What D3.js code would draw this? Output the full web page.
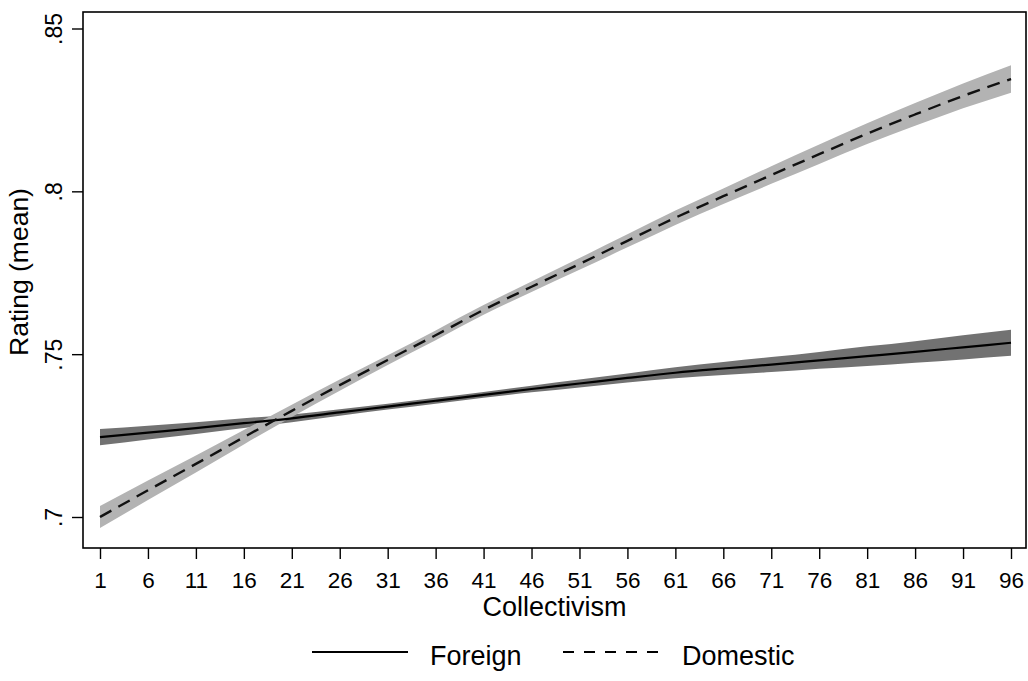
<!DOCTYPE html>
<html>
<head>
<meta charset="utf-8">
<script src="https://cdn.jsdelivr.net/npm/d3@7"></script>
<style>
  html, body { margin: 0; padding: 0; background: #fff; }
  svg { display: block; font-family: "Liberation Sans", Arial, sans-serif; }
</style>
</head>
<body>
<svg id="chart" width="1028" height="681"></svg>
<script>
// ---- data ----
const collectivism = [1, 6, 11, 16, 21, 26, 31, 36, 41, 46, 51, 56, 61, 66, 71, 76, 81, 86, 91, 96];
const foreignMean  = [0.7245, 0.7259, 0.7273, 0.7288, 0.7303, 0.7321, 0.7339, 0.7357, 0.7375, 0.7393,
                      0.7410, 0.7427, 0.7443, 0.7456, 0.7468, 0.7481, 0.7494, 0.7507, 0.7521, 0.7535];
const foreignHalf  = [0.0025, 0.0021, 0.0018, 0.0015, 0.0012, 0.0010, 0.0009, 0.0009, 0.0009, 0.0010,
                      0.0012, 0.0014, 0.0017, 0.0020, 0.0023, 0.0026, 0.0030, 0.0033, 0.0037, 0.0040];
const domesticMean = [0.7000, 0.7082, 0.7163, 0.7245, 0.7326, 0.7405, 0.7482, 0.7558, 0.7636, 0.7707,
                      0.7777, 0.7848, 0.7919, 0.7985, 0.8050, 0.8114, 0.8177, 0.8236, 0.8293, 0.8345];
const domesticHalf = [0.0034, 0.0030, 0.0026, 0.0022, 0.0019, 0.0017, 0.0015, 0.0015, 0.0015, 0.0016,
                      0.0018, 0.0020, 0.0022, 0.0024, 0.0027, 0.0030, 0.0032, 0.0035, 0.0038, 0.0042];
const xTicks = collectivism;
const yTicks = [0.7, 0.75, 0.8, 0.85];
const yTickLabels = [".7", ".75", ".8", ".85"];
const seriesNames = ["Foreign", "Domestic"];
const xTitle = "Collectivism";
const yTitle = "Rating (mean)";

// ---- layout ----
const svg = d3.select("#chart");
const frame = { left: 83, top: 12, right: 1026, bottom: 548 };
const x = d3.scaleLinear().domain([1, 96]).range([100, 1011]);
const y = d3.scaleLinear().domain([0.7, 0.85]).range([517, 28.5]);

const foreign = collectivism.map((c, i) => ({ x: c, m: foreignMean[i], h: foreignHalf[i] }));
const domestic = collectivism.map((c, i) => ({ x: c, m: domesticMean[i], h: domesticHalf[i] }));

const area = d3.area().x(d => x(d.x)).y0(d => y(d.m - d.h)).y1(d => y(d.m + d.h)).curve(d3.curveMonotoneX);
const line = d3.line().x(d => x(d.x)).y(d => y(d.m)).curve(d3.curveMonotoneX);

// bands
svg.append("path").datum(foreign).attr("d", area).attr("fill", "#727272");
svg.append("path").datum(domestic).attr("d", area).attr("fill", "#b3b3b3");
// lines
svg.append("path").datum(foreign).attr("d", line)
  .attr("fill", "none").attr("stroke", "#000").attr("stroke-width", 2.2);
svg.append("path").datum(domestic).attr("d", line)
  .attr("fill", "none").attr("stroke", "#111").attr("stroke-width", 2.4)
  .attr("stroke-dasharray", "13,8");

// frame
svg.append("rect")
  .attr("x", frame.left).attr("y", frame.top)
  .attr("width", frame.right - frame.left).attr("height", frame.bottom - frame.top)
  .attr("fill", "none").attr("stroke", "#000").attr("stroke-width", 1.6);

// x axis
const xAxis = d3.axisBottom(x).tickValues(xTicks).tickSize(11).tickPadding(6).tickFormat(d3.format("d"));
const gx = svg.append("g").attr("transform", `translate(0,${frame.bottom})`).call(xAxis);
gx.select(".domain").remove();
gx.selectAll(".tick line").attr("stroke", "#000").attr("stroke-width", 1.4);
gx.selectAll(".tick text").attr("font-size", 22.5).attr("fill", "#000")
  .attr("font-family", "Liberation Sans, Arial, sans-serif")
  .attr("dy", null).attr("y", 40);

// y axis
const yAxis = d3.axisLeft(y).tickValues(yTicks).tickSize(11)
  .tickFormat((d, i) => yTickLabels[i]);
const gy = svg.append("g").attr("transform", `translate(${frame.left},0)`).call(yAxis);
gy.select(".domain").remove();
gy.selectAll(".tick line").attr("stroke", "#000").attr("stroke-width", 1.4);
gy.selectAll(".tick text").attr("font-size", 23).attr("fill", "#000")
  .attr("font-family", "Liberation Sans, Arial, sans-serif")
  .attr("x", null).attr("dy", null).attr("text-anchor", "middle")
  .attr("transform", "translate(-21,0) rotate(-90)");

// axis titles
svg.append("text").attr("x", (frame.left + frame.right) / 2).attr("y", 616)
  .attr("text-anchor", "middle").attr("font-size", 27).attr("fill", "#000").text(xTitle);
svg.append("text").attr("transform", `translate(28,${(frame.top + frame.bottom) / 2 - 8}) rotate(-90)`)
  .attr("text-anchor", "middle").attr("font-size", 26.5).attr("fill", "#000").text(yTitle);

// legend
const legendItems = [
  { name: seriesNames[0], x1: 312, x2: 408, tx: 430, dash: null },
  { name: seriesNames[1], x1: 563, x2: 667, tx: 682, dash: "11,10" }
];
const lg = svg.append("g");
legendItems.forEach(it => {
  lg.append("line").attr("x1", it.x1).attr("x2", it.x2).attr("y1", 652).attr("y2", 652)
    .attr("stroke", "#000").attr("stroke-width", 2.2)
    .attr("stroke-dasharray", it.dash);
  lg.append("text").attr("x", it.tx).attr("y", 665).attr("font-size", 27).attr("fill", "#000").text(it.name);
});
</script>
</body>
</html>
